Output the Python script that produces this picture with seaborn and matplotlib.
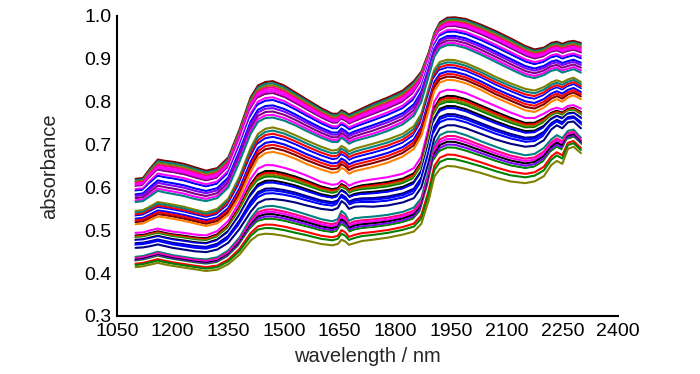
import numpy as np
import pandas as pd
import matplotlib
matplotlib.use("Agg")
import matplotlib.pyplot as plt
from matplotlib.ticker import MultipleLocator, FormatStrFormatter
import seaborn as sns

# ---------------- data ----------------
wavelength = [1100, 1120, 1140, 1160, 1180, 1200, 1230, 1260, 1290, 1320,
              1350, 1380, 1410, 1430, 1450, 1470, 1500, 1530, 1560, 1600,
              1630, 1645, 1655, 1665, 1675, 1690, 1710, 1740, 1780, 1820,
              1850, 1870, 1890, 1905, 1920, 1940, 1960, 1990, 2030, 2070,
              2110, 2150, 2175, 2200, 2220, 2235, 2250, 2265, 2280, 2300]

# upper and lower spectrum of each of the four sample clusters
g1_top = [0.620, 0.622, 0.645, 0.665, 0.662, 0.660, 0.655, 0.647, 0.639, 0.645,
          0.670, 0.735, 0.810, 0.838, 0.846, 0.848, 0.838, 0.822, 0.806, 0.785,
          0.772, 0.772, 0.780, 0.776, 0.770, 0.776, 0.784, 0.796, 0.810, 0.826,
          0.848, 0.870, 0.915, 0.960, 0.985, 0.996, 0.997, 0.993, 0.980, 0.965,
          0.948, 0.930, 0.922, 0.926, 0.937, 0.940, 0.935, 0.940, 0.942, 0.937]
g1_bot = [0.566, 0.568, 0.580, 0.592, 0.588, 0.585, 0.580, 0.573, 0.568, 0.575,
          0.600, 0.660, 0.725, 0.753, 0.762, 0.763, 0.756, 0.745, 0.732, 0.716,
          0.706, 0.706, 0.716, 0.710, 0.702, 0.708, 0.713, 0.720, 0.732, 0.747,
          0.767, 0.800, 0.860, 0.905, 0.925, 0.932, 0.932, 0.925, 0.910, 0.893,
          0.876, 0.860, 0.855, 0.862, 0.872, 0.875, 0.868, 0.872, 0.876, 0.868]
g2_top = [0.545, 0.547, 0.556, 0.566, 0.563, 0.560, 0.555, 0.548, 0.542, 0.550,
          0.574, 0.625, 0.692, 0.725, 0.737, 0.740, 0.733, 0.722, 0.710, 0.695,
          0.686, 0.688, 0.697, 0.692, 0.684, 0.690, 0.695, 0.702, 0.712, 0.725,
          0.743, 0.772, 0.832, 0.875, 0.893, 0.898, 0.897, 0.890, 0.875, 0.858,
          0.843, 0.830, 0.826, 0.834, 0.845, 0.850, 0.845, 0.852, 0.856, 0.846]
g2_bot = [0.514, 0.516, 0.524, 0.532, 0.530, 0.527, 0.522, 0.516, 0.510, 0.516,
          0.536, 0.578, 0.636, 0.668, 0.680, 0.683, 0.677, 0.667, 0.655, 0.642,
          0.634, 0.636, 0.646, 0.641, 0.632, 0.638, 0.642, 0.648, 0.658, 0.672,
          0.690, 0.720, 0.780, 0.825, 0.845, 0.851, 0.850, 0.843, 0.828, 0.810,
          0.795, 0.780, 0.776, 0.786, 0.800, 0.806, 0.800, 0.810, 0.815, 0.806]
g3_top = [0.494, 0.495, 0.500, 0.504, 0.500, 0.497, 0.494, 0.490, 0.488, 0.498,
          0.522, 0.566, 0.620, 0.644, 0.652, 0.652, 0.646, 0.638, 0.628, 0.613,
          0.606, 0.608, 0.616, 0.612, 0.604, 0.610, 0.615, 0.619, 0.624, 0.632,
          0.645, 0.672, 0.740, 0.800, 0.822, 0.828, 0.827, 0.820, 0.805, 0.790,
          0.775, 0.762, 0.762, 0.772, 0.782, 0.786, 0.782, 0.790, 0.792, 0.784]
g3_bot = [0.459, 0.460, 0.463, 0.467, 0.463, 0.459, 0.455, 0.451, 0.449, 0.455,
          0.471, 0.503, 0.543, 0.564, 0.572, 0.573, 0.570, 0.565, 0.558, 0.550,
          0.547, 0.552, 0.568, 0.562, 0.550, 0.555, 0.556, 0.555, 0.558, 0.565,
          0.575, 0.600, 0.660, 0.715, 0.738, 0.745, 0.745, 0.738, 0.725, 0.712,
          0.702, 0.695, 0.697, 0.710, 0.735, 0.745, 0.738, 0.752, 0.754, 0.738]
g4_top = [0.438, 0.440, 0.445, 0.450, 0.446, 0.442, 0.438, 0.434, 0.432, 0.437,
          0.453, 0.483, 0.528, 0.550, 0.556, 0.557, 0.552, 0.545, 0.537, 0.526,
          0.521, 0.526, 0.545, 0.538, 0.522, 0.528, 0.530, 0.532, 0.536, 0.543,
          0.553, 0.575, 0.640, 0.700, 0.722, 0.730, 0.730, 0.722, 0.708, 0.695,
          0.683, 0.675, 0.678, 0.692, 0.712, 0.722, 0.715, 0.732, 0.735, 0.716]
g4_bot = [0.414, 0.416, 0.420, 0.424, 0.420, 0.417, 0.413, 0.409, 0.405, 0.408,
          0.421, 0.443, 0.476, 0.489, 0.492, 0.491, 0.487, 0.481, 0.476, 0.468,
          0.465, 0.468, 0.478, 0.474, 0.466, 0.470, 0.475, 0.478, 0.483, 0.490,
          0.497, 0.515, 0.570, 0.625, 0.643, 0.650, 0.649, 0.643, 0.634, 0.623,
          0.614, 0.610, 0.614, 0.626, 0.652, 0.662, 0.655, 0.690, 0.695, 0.680]

# absorbance of every sample at 1100 nm (left end of each trace)
g1_start = [0.620, 0.617, 0.614, 0.611, 0.608, 0.605, 0.602, 0.599,
            0.596, 0.592, 0.588, 0.584, 0.580, 0.575, 0.570, 0.566]
g2_start = [0.545, 0.541, 0.537, 0.533, 0.530, 0.527, 0.523, 0.519, 0.514]
g3_start = [0.494, 0.488, 0.486, 0.484, 0.482, 0.480, 0.478,
            0.476, 0.473, 0.470, 0.468, 0.465, 0.462, 0.459]
g4_start = [0.438, 0.435, 0.433, 0.431, 0.429, 0.427, 0.425, 0.422, 0.419, 0.414]

g1_colors = ["wine", "teal", "olive", "pink", "magenta", "magenta", "purple", "white",
             "magenta", "blue", "white", "blue", "violet", "purple", "magenta", "teal"]
g2_colors = ["olive", "teal", "red", "blue", "white", "blue", "red", "wine", "orange"]
g3_colors = ["magenta", "black", "red", "olive", "green", "white", "black",
             "blue", "white", "navy", "blue", "blue", "white", "navy"]
g4_colors = ["teal", "pink", "magenta", "black", "violet", "green", "white",
             "red", "green", "olive"]

origin = {"black": "#000000", "red": "#FF0000", "green": "#008000", "blue": "#0000FF",
          "magenta": "#FF00FF", "olive": "#808000", "navy": "#000080",
          "purple": "#800080", "wine": "#800000", "teal": "#008080",
          "orange": "#FF8000", "violet": "#8000FF", "pink": "#FF0080",
          "white": "#FFFFFF"}

# ---------------- build long-form table ----------------
groups = [(g1_top, g1_bot, g1_start, g1_colors),
          (g2_top, g2_bot, g2_start, g2_colors),
          (g3_top, g3_bot, g3_start, g3_colors),
          (g4_top, g4_bot, g4_start, g4_colors)]
wl = np.array(wavelength, dtype=float)
frames, palette = [], []
k = 0
for top, bot, starts, cols in groups:
    top = np.array(top); bot = np.array(bot)
    for s, c in zip(starts, cols):
        t = (top[0] - s) / (top[0] - bot[0])
        frames.append(pd.DataFrame({"wavelength": wl,
                                    "absorbance": top + t * (bot - top),
                                    "sample": f"s{k:02d}"}))
        palette.append(origin[c])
        k += 1
df = pd.concat(frames, ignore_index=True)

# ---------------- plot ----------------
sns.set_style("white")
plt.rcParams["font.family"] = ["Liberation Sans", "DejaVu Sans"]

fig = plt.figure(figsize=(7.0, 3.74), dpi=100)
ax = fig.add_axes([117 / 700, 58 / 374, 501 / 700, 300 / 374])

sns.lineplot(data=df, x="wavelength", y="absorbance", hue="sample",
             palette=palette, legend=False, linewidth=1.5,
             estimator=None, sort=False, ax=ax)

ax.set_xlim(1050, 2400)
ax.set_ylim(0.3, 1.0)
ax.xaxis.set_major_locator(MultipleLocator(150))
ax.xaxis.set_minor_locator(MultipleLocator(75))
ax.yaxis.set_major_locator(MultipleLocator(0.1))
ax.yaxis.set_minor_locator(MultipleLocator(0.05))
ax.yaxis.set_major_formatter(FormatStrFormatter("%.1f"))

for side in ("top", "right"):
    ax.spines[side].set_visible(False)
for side in ("left", "bottom"):
    ax.spines[side].set_linewidth(1.5)
    ax.spines[side].set_color("black")

ax.tick_params(which="major", direction="in", length=6, width=1.3,
               labelsize=14, pad=4, colors="black")
ax.tick_params(which="minor", direction="in", length=3.5, width=1.2, colors="black")
ax.tick_params(axis="x", pad=5)

ax.set_xlabel("wavelength / nm", fontsize=14.5, labelpad=5)
ax.set_ylabel("absorbance", fontsize=14.5, labelpad=18)
ax.grid(False)
ax.set_facecolor("white")
fig.patch.set_facecolor("white")

fig.savefig("out.png", dpi=100)
